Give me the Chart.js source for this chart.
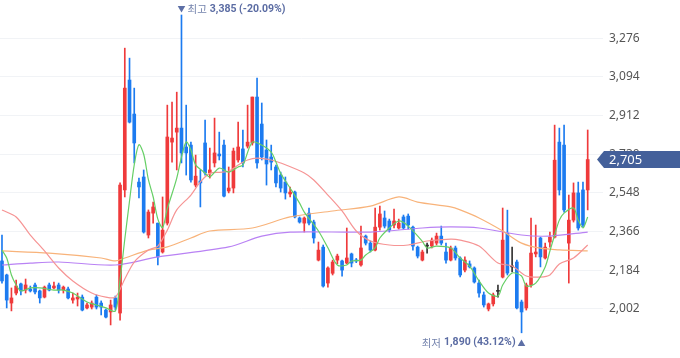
<!DOCTYPE html>
<html><head><meta charset="utf-8">
<script src="https://cdn.jsdelivr.net/npm/chart.js@4.4.1/dist/chart.umd.min.js"></script>
<style>html,body{margin:0;padding:0;background:#fff;}#wrap{width:680px;height:358px;position:relative;}</style>
</head><body><div id="wrap"><canvas id="c" width="680" height="358"></canvas></div>
<script>
const openP = [2228,2162,2030,2077,2120,2091,2096,2115,2087,2058,
 2115,2101,2115,2091,2096,2044,2049,2058,2007,2011,
 2058,2030,1997,1988,2054,1983,2562,3079,2919,2599,
 2623,2350,2453,2406,2270,2406,2787,2834,2853,2764,
 2773,2585,2604,2783,2642,2689,2731,2773,2557,2571,
 2703,2755,2768,2783,2999,2872,2750,2717,2670,2632,
 2599,2543,2552,2430,2406,2453,2411,2232,2293,2124,
 2170,2232,2228,2218,2261,2232,2209,2345,2312,2279,
 2387,2430,2416,2397,2383,2435,2439,2387,2293,2232,
 2298,2298,2312,2345,2270,2232,2289,2242,2185,2214,
 2195,2124,2068,2002,2026,2085,2152,2359,2200,2223,
 2035,2007,2115,2261,2336,2242,2317,2340,2787,2773,
 2312,2420,2548,2562,2562];
const highP = [2350,2166,2101,2138,2124,2143,2110,2124,2091,2110,
 2124,2129,2124,2110,2105,2077,2077,2068,2030,2040,
 2068,2040,2002,2044,2063,2595,3229,3182,3041,2618,
 2656,2468,2505,2406,2529,2961,2975,3022,3385,2961,
 2787,2726,2656,2891,2759,2900,2834,2797,2670,2759,
 2881,2844,2961,2999,3088,2971,2797,2773,2679,2646,
 2623,2576,2557,2435,2435,2477,2420,2317,2303,2200,
 2232,2260,2232,2383,2265,2240,2392,2350,2322,2477,
 2486,2463,2425,2472,2425,2444,2449,2392,2298,2279,
 2312,2336,2359,2392,2312,2298,2298,2247,2247,2228,
 2200,2138,2082,2030,2077,2115,2477,2467,2293,2232,
 2044,2124,2430,2397,2340,2312,2364,2867,2853,2867,
 2538,2595,2599,2599,2844];
const lowP = [2124,2007,1993,2068,2068,2077,2082,2073,2030,2054,
 2087,2096,2077,2077,2049,2030,2016,1993,2002,2002,
 2002,1974,1960,1927,1997,1950,2529,2877,2689,2524,
 2359,2336,2406,2209,2265,2397,2693,2656,2689,2632,
 2599,2576,2482,2632,2618,2670,2703,2529,2548,2548,
 2693,2670,2759,2773,2665,2703,2585,2656,2576,2552,
 2519,2529,2430,2406,2364,2397,2312,2228,2105,2105,
 2162,2215,2157,2214,2200,2220,2204,2303,2270,2275,
 2373,2383,2364,2383,2378,2378,2378,2279,2242,2228,
 2265,2289,2303,2303,2218,2228,2232,2153,2176,2195,
 2124,2058,2011,1993,2016,2058,2148,2162,2176,2002,
 1890,1997,2105,2247,2200,2237,2293,2336,2538,2458,
 2124,2411,2373,2388,2468];
const closeP = [2134,2044,2054,2110,2087,2115,2087,2082,2054,2105,
 2091,2110,2091,2105,2054,2054,2058,1997,2021,2030,
 2011,2011,1964,2021,2011,2585,3041,2881,2783,2576,
 2364,2458,2482,2247,2373,2811,2806,2853,2736,2736,
 2609,2627,2595,2642,2656,2736,2722,2533,2571,2745,
 2764,2689,2787,2999,2689,2717,2684,2693,2595,2571,
 2548,2552,2435,2411,2430,2406,2336,2279,2110,2195,
 2223,2251,2185,2242,2218,2228,2289,2312,2279,2387,
 2449,2392,2373,2416,2406,2383,2397,2298,2251,2270,
 2298,2326,2345,2312,2232,2289,2242,2162,2232,2200,
 2129,2077,2021,2026,2068,2085,2326,2171,2200,2007,
 1988,2115,2265,2270,2247,2293,2340,2702,2562,2468,
 2420,2548,2383,2397,2705];

// moving-average lines: candle index / price
const ma5Idx = [0,1,2,3,4,6,8,11,13,15,18,20,22,24,25,26,27,28,29,30,31,32,33,34,35,36,37,38,39,40,41,43,44,46,48,50,51,53,55,57,58,59,61,63,64,67,69,71,73,74,76,77,79,80,82,84,86,89,90,92,95,97,99,101,103,105,106,108,110,111,113,115,116,117,118,119,121,122,123,124];
const ma5Val = [2279,2242,2162,2115,2087,2101,2101,2091,2091,2077,2035,2021,2007,1993,2140,2330,2510,2680,2775,2730,2610,2530,2425,2385,2474,2544,2618,2716,2788,2750,2680,2642,2623,2665,2646,2670,2679,2787,2773,2740,2693,2640,2571,2500,2458,2369,2290,2209,2209,2228,2232,2256,2290,2336,2383,2416,2392,2320,2289,2298,2289,2242,2204,2134,2077,2063,2115,2171,2157,2110,2124,2200,2275,2350,2420,2453,2477,2420,2383,2435];
const ma20Idx = [0,3,6,9,12,15,19,22,24,26,28,31,33,35,37,40,42,44,46,48,50,52,54,57,59,64,66,69,72,75,78,82,86,90,95,97,101,105,108,111,114,116,118,121,124];
const ma20Val = [2468,2435,2350,2275,2195,2134,2077,2058,2058,2143,2223,2279,2298,2373,2468,2538,2600,2640,2645,2650,2679,2703,2712,2703,2689,2642,2609,2538,2463,2369,2322,2303,2303,2322,2331,2326,2298,2218,2204,2157,2152,2162,2214,2242,2303];
const ma60Idx = [0,10,21,24,26,31,35,40,44,53,61,70,78,84,88,95,97,101,106,110,114,118,124];
const ma60Val = [2275,2265,2242,2228,2242,2279,2294,2336,2369,2383,2435,2463,2486,2529,2505,2482,2468,2430,2369,2312,2288,2280,2275];
const ma120Idx = [0,6,12,24,33,48,55,61,78,89,95,101,110,116,124];
const ma120Val = [2209,2218,2223,2209,2247,2294,2345,2364,2364,2383,2388,2383,2350,2345,2364];

const yTicks = [2002,2184,2366,2548,2730,2912,3094,3276];
const currentPrice = 2705;

const UP = '#EF3A3B', DOWN = '#1C7BF0', FLAT = '#333333';
const candleColor = openP.map((o,i)=> closeP[i] > o ? UP : (closeP[i] < o ? DOWN : FLAT));
const wickData = lowP.map((l,i)=>({x:i, y:[l, highP[i]]}));
const bodyData = openP.map((o,i)=>({x:i, y:[o, closeP[i]]}));
const pts = (idx, val) => idx.map((x,k)=>({x, y: val[k]}));
const fmt = v => v.toLocaleString('en-US');

const KR = "'Noto Sans CJK KR',sans-serif";
const NUM = "Roboto,'Noto Sans',sans-serif";

const overlay = {
  id: 'overlay',
  afterDraw(chart) {
    const {ctx, scales:{x, y}} = chart;
    ctx.save();
    const hi = Math.max(...highP), hiI = highP.indexOf(hi);
    const lo = Math.min(...lowP), loI = lowP.indexOf(lo);
    const pctHi = ((currentPrice/hi - 1)*100).toFixed(2);
    const pctLo = ((currentPrice/lo - 1)*100).toFixed(2);
    ctx.textBaseline = 'middle';
    // high marker
    let hx = x.getPixelForValue(hiI), hy = y.getPixelForValue(hi) - 6;
    ctx.fillStyle = '#5d6fa6';
    ctx.font = "8px " + KR;
    ctx.textAlign = 'center';
    ctx.fillText('▼', hx, hy);
    ctx.textAlign = 'left';
    ctx.font = "10.5px " + KR;
    ctx.fillStyle = '#7483ad';
    ctx.fillText('최고', hx + 6, hy);
    let w = ctx.measureText('최고').width + 3;
    ctx.font = "bold 10.5px " + NUM;
    ctx.fillStyle = '#5b6ca3';
    ctx.fillText(fmt(hi) + ' (' + pctHi + '%)', hx + 6 + w, hy);
    // low marker
    let lx = x.getPixelForValue(loI), ly = y.getPixelForValue(lo) + 10;
    ctx.font = "8px " + KR;
    ctx.textAlign = 'center';
    ctx.fillStyle = '#5d6fa6';
    ctx.fillText('▲', lx, ly);
    ctx.textAlign = 'right';
    ctx.font = "bold 10.5px " + NUM;
    ctx.fillStyle = '#5b6ca3';
    const t2 = fmt(lo) + ' (' + pctLo + '%)';
    ctx.fillText(t2, lx - 6, ly);
    const w2 = ctx.measureText(t2).width + 3;
    ctx.font = "10.5px " + KR;
    ctx.fillStyle = '#7483ad';
    ctx.fillText('최저', lx - 6 - w2, ly);
    // current price tag
    const py = y.getPixelForValue(currentPrice);
    const left = chart.chartArea.right - 6, h = 17;
    ctx.fillStyle = '#44609A';
    ctx.beginPath();
    ctx.moveTo(left, py);
    ctx.lineTo(left + 7, py - h/2);
    ctx.lineTo(chart.width + 4, py - h/2);
    ctx.lineTo(chart.width + 4, py + h/2);
    ctx.lineTo(left + 7, py + h/2);
    ctx.closePath();
    ctx.fill();
    ctx.fillStyle = '#ffffff';
    ctx.textAlign = 'left';
    ctx.font = "13px 'Noto Sans',sans-serif";
    ctx.fillText(fmt(currentPrice), chart.chartArea.right + 6, py + 0.5);
    ctx.restore();
  }
};

new Chart(document.getElementById('c'), {
  type: 'bar',
  data: {
    datasets: [
      {type:'line', data: pts(ma5Idx, ma5Val), borderColor:'#66CF66', borderWidth:1.2, pointRadius:0, tension:0.3, order:0},
      {type:'line', data: pts(ma20Idx, ma20Val), borderColor:'#F69494', borderWidth:1.2, pointRadius:0, tension:0.3, order:0},
      {type:'line', data: pts(ma60Idx, ma60Val), borderColor:'#F8B37A', borderWidth:1.2, pointRadius:0, tension:0.3, order:0},
      {type:'line', data: pts(ma120Idx, ma120Val), borderColor:'#B982F4', borderWidth:1.2, pointRadius:0, tension:0.3, order:0},
      {data: bodyData, backgroundColor: candleColor, barThickness: 3, minBarLength: 1, grouped:false, order:1},
      {data: wickData, backgroundColor: candleColor, barThickness: 1, grouped:false, order:2}
    ]
  },
  options: {
    responsive: false,
    animation: false,
    events: [],
    layout: {padding: 0},
    plugins: {legend:{display:false}, tooltip:{enabled:false}},
    scales: {
      x: {type:'linear', display:false, min:-0.42, max:127.24, offset:false},
      y: {
        position:'right', min:1771.5, max:3455.5,
        grid:{color:'#F1F3F6', lineWidth:1, drawTicks:false},
        border:{display:false},
        ticks:{color:'#555', font:{size:12, family:"'Noto Sans',sans-serif"}, padding:6, callback:v=>fmt(v)},
        afterBuildTicks: s => { s.ticks = yTicks.map(v=>({value:v})); },
        afterFit: s => { s.width = 77; s.paddingTop = 0; s.paddingBottom = 0; }
      }
    }
  },
  plugins: [overlay]
});
</script>
</body></html>
